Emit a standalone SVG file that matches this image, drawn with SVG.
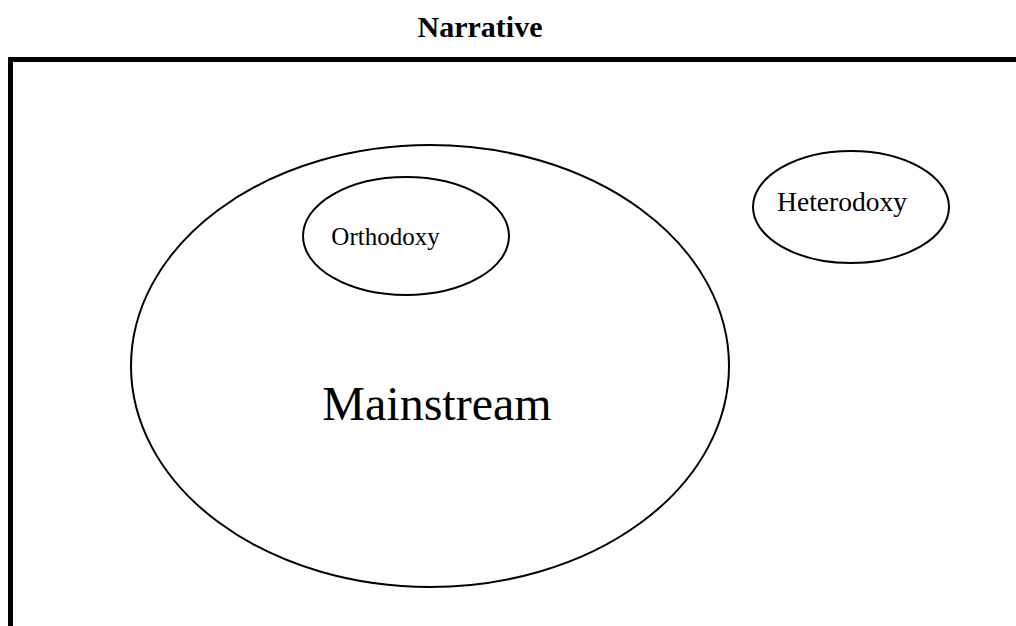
<svg xmlns="http://www.w3.org/2000/svg" width="1016" height="626" viewBox="0 0 1016 626">
<style>
.ell{fill:none;stroke:#000;stroke-width:2}
.lbl{font-family:"Liberation Serif","Times New Roman",serif;fill:#000}
</style>
<rect width="1016" height="626" fill="#fff"/>
<text class="lbl" x="480" y="37" text-anchor="middle" font-size="30" font-weight="bold">Narrative</text>
<path d="M10.5,626 V59.5 H1016" fill="none" stroke="#000" stroke-width="5" stroke-linejoin="miter"/>
<g id="mainstream">
<ellipse class="ell" cx="430" cy="366" rx="299" ry="221"/>
<text class="lbl" x="437" y="420" text-anchor="middle" font-size="48">Mainstream</text>
</g>
<g id="orthodoxy">
<ellipse class="ell" cx="406" cy="236" rx="103" ry="59"/>
<text class="lbl" x="385.5" y="245" text-anchor="middle" font-size="25">Orthodoxy</text>
</g>
<g id="heterodoxy">
<ellipse class="ell" cx="851" cy="207" rx="98" ry="56"/>
<text class="lbl" x="842" y="211" text-anchor="middle" font-size="27.5">Heterodoxy</text>
</g>
<g id="connectors"></g>
</svg>
